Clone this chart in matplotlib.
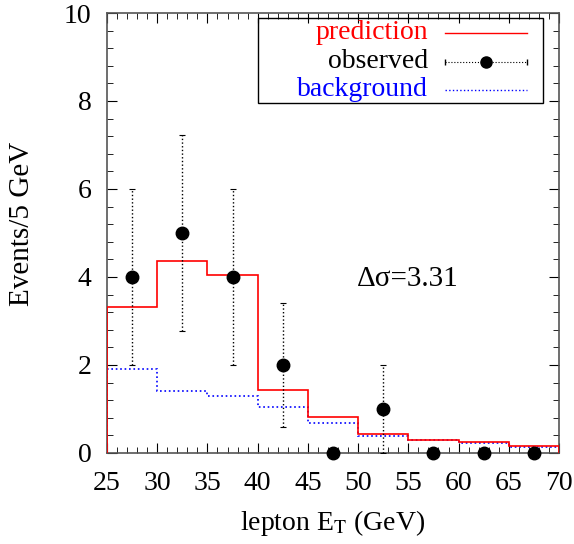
import matplotlib
matplotlib.use('Agg')
import matplotlib.pyplot as plt
from matplotlib.ticker import MultipleLocator
import numpy as np

plt.rcParams['font.family'] = ['Liberation Serif', 'DejaVu Serif']
plt.rcParams['mathtext.fontset'] = 'stix'
plt.rcParams['font.size'] = 20

# bin edges in lepton E_T (GeV)
edges = [25, 30, 35, 40, 45, 50, 55, 60, 65, 70]
prediction = [3.32, 4.36, 4.05, 1.43, 0.81, 0.43, 0.30, 0.25, 0.15]
background = [1.90, 1.41, 1.30, 1.05, 0.69, 0.39, 0.29, 0.23, 0.13]
observed = [4, 5, 4, 2, 0, 1, 0, 0, 0]

centers = [(a + b) / 2 for a, b in zip(edges[:-1], edges[1:])]
errs = np.sqrt(observed)

fig = plt.figure(figsize=(5.74, 5.44), dpi=100)
ax = fig.add_axes([0.1864, 0.1673, 0.7875, 0.8088])

ax.stairs(prediction, edges, color='red', lw=1.2, zorder=3)
ax.stairs(background, edges, color='blue', lw=1.2, ls=':', zorder=2)

# error bars only where there are counts
has = [i for i, n in enumerate(observed) if n > 0]
eb = ax.errorbar([centers[i] for i in has], [observed[i] for i in has],
                 yerr=[errs[i] for i in has], fmt='none', ecolor='black',
                 elinewidth=1.0, capsize=2.5, capthick=0.8, zorder=4)
eb[2][0].set_linestyle(':')
ax.plot(centers, observed, 'o', color='black', ms=9, clip_on=False, zorder=5)

ax.text(54.9, 3.95, 'Δσ=3.31', fontsize=21, ha='center', va='center')

ax.set_xlim(25, 70)
ax.set_ylim(0, 10)
ax.xaxis.set_major_locator(MultipleLocator(5))
ax.xaxis.set_minor_locator(MultipleLocator(1))
ax.yaxis.set_major_locator(MultipleLocator(2))
ax.yaxis.set_minor_locator(MultipleLocator(0.4))
ax.tick_params(which='both', direction='in', top=True, right=True, labelsize=20)
ax.tick_params(which='major', length=7)
ax.tick_params(which='minor', length=4)
ax.tick_params(axis='x', pad=13)
ax.tick_params(axis='y', pad=11)
for s in ax.spines.values():
    s.set_color('#555555')
    s.set_linewidth(1.2)

ax.set_xlabel(r'lepton E$_\mathrm{T}$ (GeV)', fontsize=20)
ax.set_ylabel('Events/5 GeV', fontsize=21)
ax.xaxis.set_label_coords(0.5, -0.125)
ax.yaxis.set_label_coords(-0.16, 0.52)

# gnuplot-style legend box
ax.add_patch(plt.Rectangle((0.334, 0.795), 0.631, 0.194, transform=ax.transAxes,
                           fill=False, edgecolor='black', lw=1.0, zorder=6))
rows = [0.955, 0.889, 0.825]
ax.text(0.710, rows[0], 'prediction', color='red', ha='right', va='center',
        transform=ax.transAxes, fontsize=20)
ax.text(0.710, rows[1], 'observed', color='black', ha='right', va='center',
        transform=ax.transAxes, fontsize=20)
ax.text(0.710, rows[2], 'background', color='blue', ha='right', va='center',
        transform=ax.transAxes, fontsize=20)
ax.plot([0.748, 0.929], [rows[0]] * 2, color='red', lw=1.0, transform=ax.transAxes)
ax.plot([0.748, 0.929], [rows[1]] * 2, color='black', lw=0.8, ls=':',
        transform=ax.transAxes)
ax.plot([0.748, 0.929], [rows[1]] * 2, color='black', lw=0, marker='|', ms=4,
        transform=ax.transAxes)
ax.plot([0.838], [rows[1]], 'o', color='black', ms=8, transform=ax.transAxes)
ax.plot([0.748, 0.929], [rows[2]] * 2, color='blue', lw=1.0, ls=':',
        transform=ax.transAxes)

fig.savefig('out.png', dpi=100)
